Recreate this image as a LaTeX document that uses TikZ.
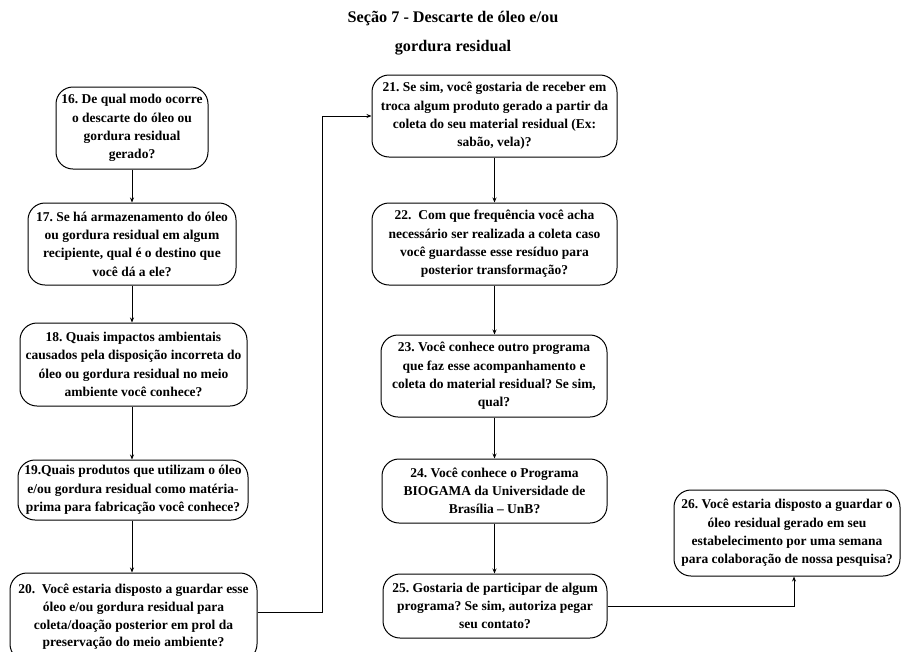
\documentclass[tikz,border=0pt]{standalone}
\usepackage{fontspec}
\setmainfont{Liberation Serif}
\usetikzlibrary{arrows.meta}
\frenchspacing
\begin{document}
\begin{tikzpicture}[x=1pt,y=-1pt,
  qbox/.style={draw=black, line width=1pt, rounded corners=17pt, align=center,
    inner sep=0pt, font=\bfseries\fontsize{13.5}{18.3}\selectfont},
  arr/.style={line width=0.9pt, -{Stealth[length=5pt,width=4pt]}},
  heading/.style={align=center, font=\bfseries\fontsize{16.2}{29}\selectfont}]
\useasboundingbox (0,0) rectangle (901,651);

\node[heading] (title) at (453,33) {Seção 7 - Descarte de óleo e/ou\\gordura residual};

% left column
\node[qbox, minimum width=152, minimum height=82] (b16) at (132,128)
  {16. De qual modo ocorre\\o descarte do óleo ou\\gordura residual\\gerado?};
\node[qbox, minimum width=208, minimum height=82] (b17) at (132,244)
  {17. Se há armazenamento do óleo\\ou gordura residual em algum\\recipiente, qual é o destino que\\você dá a ele?};
\node[qbox, minimum width=227, minimum height=83] (b18) at (133.5,364.5)
  {18. Quais impactos ambientais\\causados pela disposição incorreta do\\óleo ou gordura residual no meio\\ambiente você conhece?};
\node[qbox, minimum width=230, minimum height=60] (b19) at (133,490)
  {19.Quais produtos que utilizam o óleo\\e/ou gordura residual como matéria-\\prima para fabricação você conhece?};
\node[qbox, minimum width=247, minimum height=88,
  font=\bfseries\fontsize{13.5}{17.6}\selectfont] (b20) at (133.5,617)
  {20.\ \ Você estaria disposto a guardar esse\\óleo e/ou gordura residual para\\coleta/doação posterior em prol da\\preservação do meio ambiente?};

% middle column
\node[qbox, minimum width=245, minimum height=82] (b21) at (494.5,116)
  {21. Se sim, você gostaria de receber em\\troca algum produto gerado a partir da\\coleta do seu material residual (Ex:\\sabão, vela)?};
\node[qbox, minimum width=245, minimum height=82] (b22) at (494.5,244)
  {22.\ \ Com que frequência você acha\\necessário ser realizada a coleta caso\\você guardasse esse resíduo para\\posterior transformação?};
\node[qbox, minimum width=226, minimum height=82] (b23) at (494,376)
  {23. Você conhece outro programa\\que faz esse acompanhamento e\\coleta do material residual? Se sim,\\qual?};
\node[qbox, minimum width=225, minimum height=64] (b24) at (494.5,491)
  {24. Você conhece o Programa\\BIOGAMA da Universidade de\\Brasília – UnB?};
\node[qbox, minimum width=224, minimum height=64] (b25) at (495,606)
  {25. Gostaria de participar de algum\\programa? Se sim, autoriza pegar\\seu contato?};

% right box
\node[qbox, minimum width=226, minimum height=86] (b26) at (787,533)
  {26. Você estaria disposto a guardar o\\óleo residual gerado em seu\\estabelecimento por uma semana\\para colaboração de nossa pesquisa?};

% connectors
\draw[arr] (b16.south) -- (b17.north);
\draw[arr] (b17.south) -- (b18.north -| b17.south);
\draw[arr] (b18.south -| b17.south) -- (b19.north -| b17.south);
\draw[arr] (b19.south -| b17.south) -- (b20.north -| b17.south);
\coordinate (turnA) at (322,0);
\draw[arr] (b20.east |- 0,612) -| (turnA |- b21.west) -- (b21.west);
\draw[arr] (b21.south) -- (b22.north);
\draw[arr] (b22.south -| b21.south) -- (b23.north -| b21.south);
\draw[arr] (b23.south -| b21.south) -- (b24.north -| b21.south);
\draw[arr] (b24.south -| b21.south) -- (b25.north -| b21.south);
\coordinate (turnB) at (794,0);
\draw[arr] (b25.east) -| (turnB |- b26.south);
\end{tikzpicture}
\end{document}
